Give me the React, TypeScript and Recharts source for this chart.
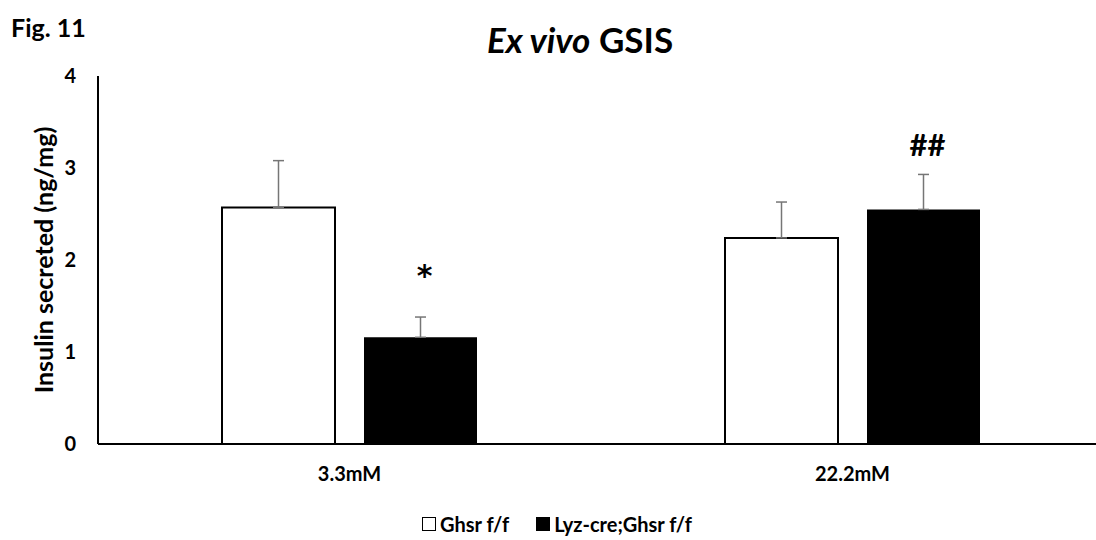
import React from 'react';
import { BarChart, Bar, XAxis, YAxis, ErrorBar, LabelList } from 'recharts';

const categories = ['3.3mM', '22.2mM'];
const seriesNames = ['Ghsr f/f', 'Lyz-cre;Ghsr f/f'];
const seriesFills = ['#fff', '#000'];
const ghsrValues = [2.57, 2.24];
const ghsrErrors = [0.51, 0.39];
const lyzValues = [1.16, 2.55];
const lyzErrors = [0.22, 0.38];
const marks = ['*', '##'];
const yTicks = [0, 1, 2, 3, 4];

const data = categories.map((name, i) => ({
  name,
  ghsr: ghsrValues[i],
  ghsrErr: [0, ghsrErrors[i]],
  lyz: lyzValues[i],
  lyzErr: [0, lyzErrors[i]],
  mark: marks[i],
  lyzE: lyzErrors[i],
}));

const FONT = 'Lato, "Open Sans", sans-serif';

// significance mark above the error bar of the black series
const MarkLabel = (props: any) => {
  const { x, y, width, height, index } = props;
  const row = data[index];
  if (!row || !row.mark) return null;
  const pxPerUnit = height / row.lyz;
  const errTop = y - row.lyzE * pxPerUnit;
  const star = row.mark === '*';
  return (
    <text
      x={x + width / 2 + 4}
      y={errTop - (star ? 42 : 30)}
      textAnchor="middle"
      dominantBaseline="central"
      fontFamily={star ? '"DejaVu Sans", sans-serif' : FONT}
      fontWeight={700}
      fontSize={star ? 30 : 31}
      fill="#000"
    >
      {row.mark}
    </text>
  );
};

const YLabel = (props: any) => {
  const { viewBox } = props;
  const cy = viewBox.y + viewBox.height / 2;
  return (
    <text
      x={43}
      y={cy}
      transform={`rotate(-90, 43, ${cy})`}
      textAnchor="middle"
      dominantBaseline="central"
      fontFamily={FONT}
      fontWeight={700}
      fontSize={25}
      fill="#000"
    >
      Insulin secreted (ng/mg)
    </text>
  );
};

const LegendRow = () => (
  <div
    style={{
      position: 'absolute',
      top: 512,
      left: 9,
      width: 1096,
      display: 'flex',
      justifyContent: 'center',
      gap: 27,
      fontFamily: FONT,
      fontWeight: 700,
      fontSize: 20,
      lineHeight: '24px',
    }}
  >
    {seriesNames.map((n, i) => (
      <div key={n} style={{ display: 'flex', alignItems: 'center', gap: 4 }}>
        <span
          style={{
            display: 'inline-block',
            width: 12,
            height: 12,
            background: seriesFills[i],
            border: '1.5px solid #000',
          }}
        />
        <span style={{ whiteSpace: 'pre' }}>{n}</span>
      </div>
    ))}
  </div>
);

export default function App() {
  return (
    <div style={{ position: 'absolute', left: 0, top: 0, width: 1096, height: 540, overflow: 'hidden', background: '#fff' }}>
      <div style={{ position: 'absolute', left: 11, top: 12, fontFamily: FONT, fontWeight: 700, fontSize: 25, lineHeight: '30px' }}>
        Fig. 11
      </div>
      <div
        style={{
          position: 'absolute',
          left: 0,
          width: 1160,
          top: 18,
          textAlign: 'center',
          fontFamily: FONT,
          fontWeight: 700,
          fontSize: 35,
          lineHeight: '42px',
        }}
      >
        <i>Ex vivo</i> GSIS
      </div>
      <BarChart
        width={1106}
        height={540}
        data={data}
        margin={{ top: 76, right: 2, bottom: 66, left: 20 }}
        barCategoryGap={124}
        barGap={29}
      >
        <XAxis
          dataKey="name"
          height={30}
          axisLine={{ stroke: '#000', strokeWidth: 2 }}
          tickLine={false}
          tickSize={0}
          tickMargin={23}
          tick={{ fill: '#000', fontFamily: FONT, fontWeight: 700, fontSize: 20 }}
        />
        <YAxis
          width={78}
          domain={[0, 4]}
          ticks={yTicks}
          axisLine={{ stroke: '#000', strokeWidth: 2 }}
          tickLine={false}
          tickSize={0}
          tickMargin={22}
          tick={{ fill: '#000', fontFamily: FONT, fontWeight: 700, fontSize: 20 }}
          label={<YLabel />}
        />
        <Bar dataKey="ghsr" name={seriesNames[0]} fill={seriesFills[0]} stroke="#000" strokeWidth={2} barSize={113} isAnimationActive={false}>
          <ErrorBar dataKey="ghsrErr" width={5.5} stroke="#767676" strokeWidth={1.5} direction="y" />
        </Bar>
        <Bar dataKey="lyz" name={seriesNames[1]} fill={seriesFills[1]} barSize={113} isAnimationActive={false}>
          <ErrorBar dataKey="lyzErr" width={5.5} stroke="#767676" strokeWidth={1.5} direction="y" />
          <LabelList dataKey="mark" content={<MarkLabel />} />
        </Bar>
      </BarChart>
      <LegendRow />
    </div>
  );
}
